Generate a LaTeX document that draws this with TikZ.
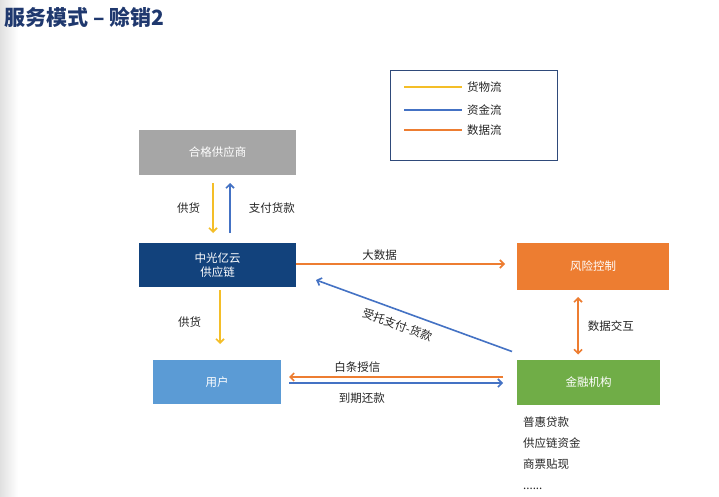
\documentclass[tikz,border=0pt]{standalone}
\usepackage{fontspec}
\setmainfont{Noto Sans CJK SC}
\usetikzlibrary{arrows.meta,positioning}
\definecolor{TitleNavy}{RGB}{31,56,110}
\definecolor{SupplierGray}{RGB}{166,166,166}
\definecolor{CoreBlue}{RGB}{18,66,124}
\definecolor{RiskOrange}{RGB}{237,125,49}
\definecolor{UserBlue}{RGB}{91,155,213}
\definecolor{BankGreen}{RGB}{112,173,71}
\definecolor{GoodsYellow}{RGB}{244,190,40}
\definecolor{MoneyBlue}{RGB}{68,114,196}
\definecolor{LegendFrame}{RGB}{47,74,122}
\tikzset{
  party/.style={text=white, outer sep=0pt, inner sep=2pt, align=center,
    font=\fontsize{11.5}{14}\selectfont},
  lbl/.style={text=black!85, font=\fontsize{11.5}{13}\selectfont, inner sep=1pt},
  goods/.style={-{Straight Barb[length=4pt,width=8pt]}, line width=1.6pt, GoodsYellow},
  money/.style={-{Straight Barb[length=4pt,width=8pt]}, line width=1.6pt, MoneyBlue},
  datafl/.style={-{Straight Barb[length=4pt,width=8pt]}, line width=1.6pt, RiskOrange},
  legline/.style={line width=2pt}
}
\begin{document}
\begin{tikzpicture}[x=1pt,y=-1pt]
  \useasboundingbox (0,0) rectangle (719,497);
  \fill[white] (0,0) rectangle (719,497);
  \shade[left color=black!12, right color=white] (0,0) rectangle (18,497);

  % title
  \node[anchor=west, inner sep=0pt, text=TitleNavy, font=\fontsize{21}{22}\selectfont\bfseries]
    (title) at (4,17) {服务模式 – 赊销2};

  % legend
  \draw[LegendFrame, line width=0.8pt] (390,70) rectangle (557,160);
  \draw[legline, GoodsYellow] (404,87) -- (462,87);
  \draw[legline, MoneyBlue] (404,110) -- (462,110);
  \draw[legline, RiskOrange] (404,130) -- (462,130);
  \node[lbl, anchor=west] (lgoods) at (466,87) {货物流};
  \node[lbl, anchor=west] (lmoney) at (466,110) {资金流};
  \node[lbl, anchor=west] (ldata) at (466,130) {数据流};

  % parties
  \node[party, fill=SupplierGray, minimum width=157pt, minimum height=45pt] (supplier) at (217.5,152.5) {合格供应商};
  \node[party, fill=CoreBlue, minimum width=157pt, minimum height=44pt] (zgyy) at (217.5,265) {中光亿云\\供应链};
  \node[party, fill=RiskOrange, minimum width=152pt, minimum height=47pt] (risk) at (593,266.5) {风险控制};
  \node[party, fill=UserBlue, minimum width=128pt, minimum height=44pt] (user) at (217,382) {用户};
  \node[party, fill=BankGreen, minimum width=143pt, minimum height=45pt] (bank) at (588.5,382) {金融机构};

  % flows
  \draw[goods] ([xshift=-4.5pt,yshift=-8pt]supplier.south) -- ([xshift=-4.5pt,yshift=10pt]zgyy.north)
    node[lbl, midway, left=11pt] (lsupply1) {供货};
  \draw[money] ([xshift=12.5pt,yshift=10pt]zgyy.north) -- ([xshift=12.5pt,yshift=-8pt]supplier.south)
    node[lbl, midway, right=17pt] (lpay) {支付货款};
  \draw[datafl] ([yshift=1pt]zgyy.east) -- ([xshift=-12pt,yshift=1pt]zgyy.east -| risk.west)
    node[lbl, pos=0.4, above=2pt] (lbig) {大数据};
  \draw[money] ([xshift=-5pt,yshift=8pt]bank.north west) -- ([xshift=20pt,yshift=7pt]zgyy.south east)
    node[lbl, pos=0.56, sloped, below=7pt] (lentrust) {受托支付-货款};
  \draw[datafl, {Straight Barb[length=4pt,width=8pt]}-{Straight Barb[length=4pt,width=8pt]}]
    ([xshift=-15pt,yshift=-7pt]risk.south) -- ([xshift=-10.5pt,yshift=5pt]bank.north)
    node[lbl, midway, right=8pt] (lexch) {数据交互};
  \draw[datafl] ([xshift=-14pt,yshift=5pt]bank.west) -- ([xshift=8pt,yshift=5pt]user.east)
    node[lbl, pos=0.68, above=3pt] (lcredit) {白条授信};
  \draw[money] ([xshift=8pt,yshift=-1pt]user.east) -- ([xshift=-14pt,yshift=-1pt]bank.west)
    node[lbl, pos=0.34, below=8pt] (lrepay) {到期还款};
  \draw[goods] ([xshift=2.5pt,yshift=-3pt]zgyy.south) -- ([xshift=3pt,yshift=16pt]user.north)
    node[lbl, pos=0.6, left=17pt] (lsupply2) {供货};

  % products
  \node[lbl, anchor=north west, align=left, font=\fontsize{11.5}{21}\selectfont]
    (products) at (522,416) {普惠贷款\\供应链资金\\商票贴现\\......};
\end{tikzpicture}
\end{document}
